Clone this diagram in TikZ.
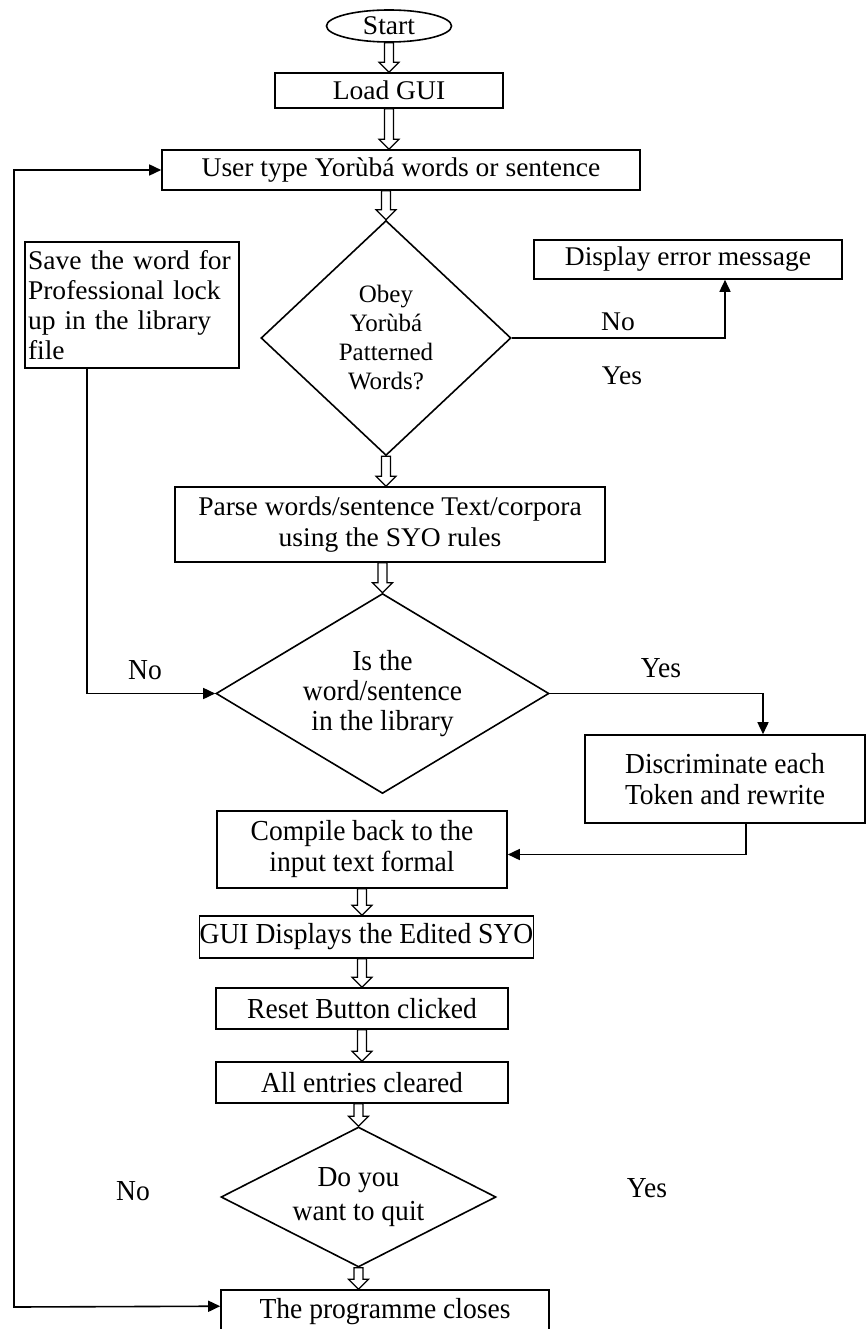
\documentclass[tikz,border=0pt]{standalone}
\usepackage{fontspec}
\setmainfont{Liberation Serif}[FakeStretch=1.02]
\newfontfamily\tms{Liberation Serif}
\newfontfamily\cnd{Liberation Serif}[FakeStretch=0.95]
\usetikzlibrary{shapes.geometric,arrows.meta,calc}
\tikzset{
  up/.style={font=\fontsize{27}{30}\selectfont},
  low/.style={font=\cnd\fontsize{29}{31}\selectfont},
  box/.style={draw, line width=1.6pt, inner sep=0pt, align=center, up},
  dec/.style={draw, diamond, line width=1.6pt, inner sep=0pt},
  txt/.style={inner sep=0pt, align=center},
  conn/.style={line width=1.6pt},
  tri/.style={conn, -{Triangle[length=12pt,width=11pt]}},
  tritri/.style={conn, {Triangle[length=12pt,width=11pt]}-{Triangle[length=12pt,width=11pt]}},
  hollow/.style={draw, fill=white, line width=1.2pt},
}
\newcommand\harr[2]{\draw[hollow] let \p1=(#1), \p2=(#2) in
  (\x1-4.5pt,\y1) -- (\x1+4.5pt,\y1) -- (\x1+4.5pt,\y2+10pt) -- (\x1+10pt,\y2+10pt)
  -- (\x1,\y2) -- (\x1-10pt,\y2+10pt) -- (\x1-4.5pt,\y2+10pt) -- cycle;}
\begin{document}
\begin{tikzpicture}[x=1pt,y=-1pt]
\useasboundingbox (0,0) rectangle (867,1329);
\clip (0,0) rectangle (867,1329);
\fill[white] (0,0) rectangle (867,1329);

\node[draw, ellipse, line width=1.6pt, inner sep=0pt, minimum width=125pt, minimum height=32pt, up] (start) at (389,26) {Start};
\node[box, minimum width=228pt, minimum height=35pt] (load) at (389,90.5) {Load GUI};
\node[box, minimum width=478pt, minimum height=40pt] (user) at (401,170) {User type Yorùbá words or sentence};
\node[box, minimum width=214pt, minimum height=126pt, text width=208pt, align=left] (save) at (132,305)
  {Save the word for\\Professional lock\\up in the library\\file};
\node[dec, minimum width=250pt, minimum height=235pt] (dia1) at (386,338) {};
\node[txt, font=\tms\fontsize{25}{29}\selectfont] (dia1t) at (386,338) {Obey\\Yorùbá\\Patterned\\Words?};
\node[box, minimum width=308pt, minimum height=39pt] (err) at (688,259.5) {Display error message};
\node[box, minimum width=430pt, minimum height=75pt, font=\fontsize{27}{31}\selectfont] (parse) at (390,524.5)
  {Parse words/sentence Text/corpora\\using the SYO rules};
\node[dec, minimum width=333pt, minimum height=200pt] (dia2) at (382.5,693.5) {};
\node[txt, font=\cnd\fontsize{29}{30}\selectfont] (dia2t) at (382.5,693.5) {Is the\\word/sentence\\in the library};
\node[box, low, minimum width=280pt, minimum height=88pt] (disc) at (725,779)
  {Discriminate each\\Token and rewrite};
\node[box, low, minimum width=290pt, minimum height=77pt] (comp) at (362,849.5)
  {Compile back to the\\input text formal};
\node[box, low, minimum width=333pt, minimum height=42pt] (gui) at (366.5,937) {GUI Displays the Edited SYO};
\node[box, low, minimum width=292pt, minimum height=41pt] (reset) at (362,1008.5) {Reset Button clicked};
\node[box, low, minimum width=292pt, minimum height=41pt] (all) at (362,1082.5) {All entries cleared};
\node[dec, minimum width=275pt, minimum height=140pt] (dia3) at (358.5,1197) {};
\node[txt, font=\cnd\fontsize{29}{34}\selectfont] (dia3t) at (358.5,1197) {Do you\\want to quit};
\node[box, minimum width=328pt, minimum height=52pt] (prog) at (385,1316) {};
\node[txt, low] (progt) at (385,1312) {The programme closes};

% labels
\node[txt, up] (no1) at (618,322) {No};
\node[txt, up] (yes1) at (622,376) {Yes};
\node[txt, low] (no2) at (145,670) {No};
\node[txt, low] (yes2) at (661,668) {Yes};
\node[txt, low] (no3) at (133,1191) {No};
\node[txt, low] (yes3) at (647,1188) {Yes};

% hollow arrows
\harr{start.south}{load.north}
\harr{load.south}{user.north}
\harr{user.south -| dia1.north}{dia1.north}
\harr{dia1.south}{parse.north}
\harr{parse.south -| dia2.north}{dia2.north}
\harr{comp.south}{gui.north}
\harr{gui.south -| reset.north}{reset.north}
\harr{reset.south}{all.north}
\harr{all.south -| dia3.north}{dia3.north}
\harr{dia3.south}{prog.north -| dia3.south}

% connectors
\coordinate (lb) at (14,1307);
\coordinate (progin) at ($(prog.north west)+(0,17)$);
\draw[tritri] (user.west) -| (lb) -- (progin);
\coordinate (sv) at ($(save.south west)+(63,0)$);
\draw[tri] (sv) |- (dia2.west);
\draw[tri] (dia1.east) -| ($(err.south)+(37,0)$);
\draw[tri] (dia2.east) -| ($(disc.north)+(38,0)$);
\draw[tri] ($(disc.south)+(21,0)$) |- ($(comp.east)+(0,5)$);
\end{tikzpicture}
\end{document}
